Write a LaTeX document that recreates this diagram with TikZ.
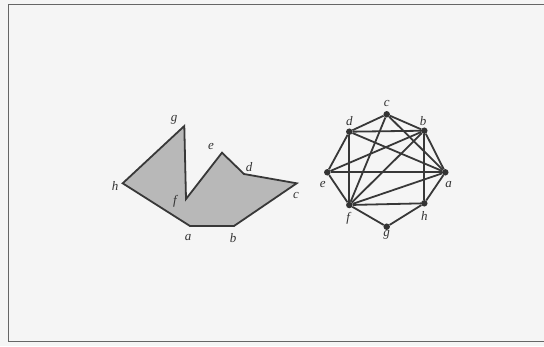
\documentclass[tikz,border=0pt]{standalone}
\usepackage{fontspec}
\setmainfont{Liberation Serif}
\begin{document}
\begin{tikzpicture}[x=1pt,y=-1pt,
  lbl/.style={font=\fontsize{13}{13}\selectfont\itshape, inner sep=0pt, text=black!80},
  vtx/.style={circle, fill=black!80, inner sep=0pt, minimum size=6.5pt},
  edge/.style={draw=black!78, line width=1.8pt},
  poly/.style={draw=black!78, line width=1.8pt, fill=black!28, line join=miter}]
\useasboundingbox (0,0) rectangle (544,346);
\fill[black!4] (0,0) rectangle (544,346);
\begin{scope}
\clip (0,0) rectangle (544,346);
\draw[black!60, line width=1.6pt] (8.5,4.5) rectangle (560,341.5);
\end{scope}
% polygon
\coordinate (pg) at (184.3,126);
\coordinate (pf) at (186,199);
\coordinate (pe) at (222,152.7);
\coordinate (pd) at (244,174);
\coordinate (pc) at (296.7,183.3);
\coordinate (pb) at (234,226);
\coordinate (pa) at (190,226);
\coordinate (ph) at (122.7,183.3);
\path[poly] (pg) -- (pf) -- (pe) -- (pd) -- (pc) -- (pb) -- (pa) -- (ph) -- cycle;
\node[lbl] (lg) at (174,120) {g};
\node[lbl] (le) at (211,146) {e};
\node[lbl] (ld) at (249,167.5) {d};
\node[lbl] (lc) at (296,195.5) {c};
\node[lbl] (lb) at (233,238.5) {b};
\node[lbl] (la) at (188,238) {a};
\node[lbl] (lf) at (175,201) {f};
\node[lbl] (lh) at (115,186) {h};
% graph
\node[vtx] (c) at (386.7,114.3) {};
\node[vtx] (d) at (349.3,131.7) {};
\node[vtx] (b) at (424.3,130.7) {};
\node[vtx] (e) at (327.3,172.3) {};
\node[vtx] (a) at (445.3,172.3) {};
\node[vtx] (f) at (349.3,205) {};
\node[vtx] (h) at (424.3,203.3) {};
\node[vtx] (g) at (386.7,226.7) {};
\foreach \u/\v in {c/b,b/a,a/h,h/g,g/f,f/e,e/d,d/c,d/b,e/a,f/h,d/f,b/h,d/a,c/a,c/f,e/b,f/b,f/a}
  \draw[edge] (\u) -- (\v);
\node[lbl] (gc) at (386.7,103) {c};
\node[lbl] (gd) at (349.3,121.5) {d};
\node[lbl] (gb) at (423,121.5) {b};
\node[lbl] (ge) at (322.7,184.5) {e};
\node[lbl] (ga) at (448.7,184.5) {a};
\node[lbl] (gf) at (348.3,218.5) {f};
\node[lbl] (gh) at (424.3,216) {h};
\node[lbl] (gg) at (386.5,234.5) {g};
\end{tikzpicture}
\end{document}
